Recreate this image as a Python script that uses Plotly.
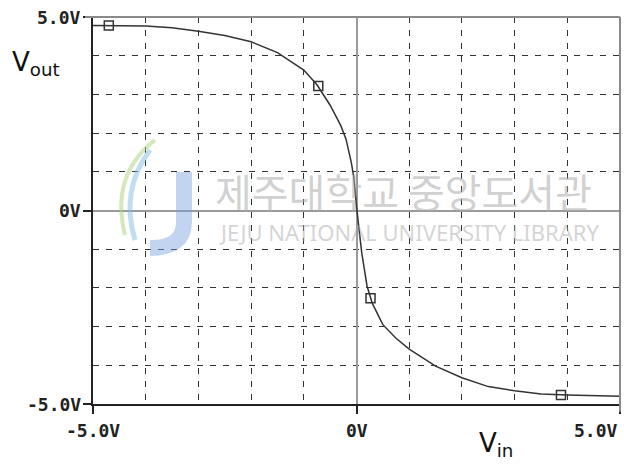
import plotly.graph_objects as go

# ---- data ----
vin = [-5.0, -4.5, -4.0, -3.5, -3.0, -2.5, -2.0, -1.5, -1.0, -0.75, -0.5, -0.3, -0.2,
       -0.1, -0.05, 0.0, 0.05, 0.1, 0.2, 0.3, 0.5, 0.75, 1.0, 1.5, 2.0, 2.5, 3.0, 3.5,
       4.0, 4.5, 5.0]
vout = [4.78, 4.78, 4.77, 4.72, 4.63, 4.52, 4.36, 4.08, 3.63, 3.25, 2.72, 2.2, 1.85,
        1.25, 0.85, 0.1, -0.6, -1.1, -1.95, -2.4, -2.95, -3.3, -3.58, -4.02, -4.32,
        -4.55, -4.66, -4.74, -4.77, -4.79, -4.80]

marker_vin = [-4.70, -0.725, 0.266, 3.88]
marker_vout = [4.78, 3.22, -2.27, -4.77]

tick_vals = [-5, 0, 5]
tick_text = ["-5.0V", "0V", "5.0V"]
x_label_anchor = ["center", "center", "right"]

tick_font = dict(family="DejaVu Sans Mono", size=18, color="#222")

fig = go.Figure()
fig.add_trace(go.Scatter(x=vin, y=vout, mode="lines",
                         line=dict(color="#333", width=1.5), hoverinfo="skip"))
fig.add_trace(go.Scatter(x=marker_vin, y=marker_vout, mode="markers",
                         marker=dict(symbol="square-open", size=9,
                                     line=dict(color="#333", width=1.5), color="#333")))

axis_common = dict(
    range=[-5, 5], tickmode="array", tickvals=tick_vals, showticklabels=False,
    ticks="outside", ticklen=8, tickwidth=2, tickcolor="#222",
    showline=True, linecolor="#222", linewidth=2,
    showgrid=False, zeroline=True, zerolinecolor="#9a9a9a", zerolinewidth=2,
    minor=dict(tickmode="linear", tick0=-5, dtick=1, showgrid=True,
               gridcolor="#333", gridwidth=1, griddash="6px,7px", ticks=""),
    fixedrange=True,
)
fig.update_xaxes(**axis_common)
fig.update_yaxes(**axis_common)

annotations = []
for v, t, a in zip(tick_vals, tick_text, x_label_anchor):
    annotations.append(dict(x=v, y=0, xref="x", yref="paper", text="<b>%s</b>" % t,
                            showarrow=False, xanchor=a, yanchor="top", yshift=-14,
                            font=tick_font))
    annotations.append(dict(x=0, y=v, xref="paper", yref="y", text="<b>%s</b>" % t,
                            showarrow=False, xanchor="right", yanchor="middle",
                            xshift=-10, font=tick_font))

annotations.append(dict(x=-0.158, y=0.88, xref="paper", yref="paper",
                        text="V<sub>out</sub>", showarrow=False, xanchor="left",
                        yanchor="middle", font=dict(family="DejaVu Sans", size=26, color="#111")))
annotations.append(dict(x=0.765, y=-0.105, xref="paper", yref="paper",
                        text="V<sub>in</sub>", showarrow=False, xanchor="center",
                        yanchor="middle", font=dict(family="DejaVu Sans", size=26, color="#111")))

# watermark
annotations.append(dict(x=0.59, y=0.55, xref="paper", yref="paper",
                        text="제주대학교 중앙도서관", showarrow=False,
                        xanchor="center", yanchor="middle",
                        font=dict(family="Noto Sans CJK KR", size=40,
                                  color="rgba(170,170,170,0.55)")))
annotations.append(dict(x=0.6, y=0.445, xref="paper", yref="paper",
                        text="JEJU NATIONAL UNIVERSITY LIBRARY", showarrow=False,
                        xanchor="center", yanchor="middle",
                        font=dict(family="Noto Sans", size=22,
                                  color="rgba(170,170,170,0.5)")))

shapes = [
    dict(type="line", xref="paper", yref="paper", x0=-0.015, x1=1, y0=1, y1=1,
         line=dict(color="#8a8a8a", width=2)),
    dict(type="line", xref="paper", yref="paper", x0=1, x1=1, y0=-0.02, y1=1,
         line=dict(color="#8a8a8a", width=2)),
    # logo swooshes of the watermark
    dict(type="path", xref="paper", yref="paper",
         path="M 0.1176 0.6822 Q 0.0323 0.5917 0.0607 0.4367",
         line=dict(color="rgba(170,210,120,0.5)", width=4), layer="above"),
    dict(type="path", xref="paper", yref="paper",
         path="M 0.1082 0.6563 Q 0.0512 0.5530 0.0797 0.4238",
         line=dict(color="rgba(130,190,230,0.5)", width=5), layer="above"),
    dict(type="path", xref="paper", yref="paper",
         path="M 0.1727 0.5995 L 0.1727 0.4703 Q 0.1727 0.4031 0.1082 0.4031",
         line=dict(color="rgba(120,160,220,0.45)", width=16), layer="above"),
]

fig.update_layout(
    width=624, height=465,
    margin=dict(l=93, r=4, t=17, b=61),
    paper_bgcolor="white", plot_bgcolor="white",
    showlegend=False,
    annotations=annotations,
    shapes=shapes,
)

fig.write_html("out.html", config={"displayModeBar": False},
               post_script="document.body.style.margin='0';document.body.style.overflow='hidden';")
